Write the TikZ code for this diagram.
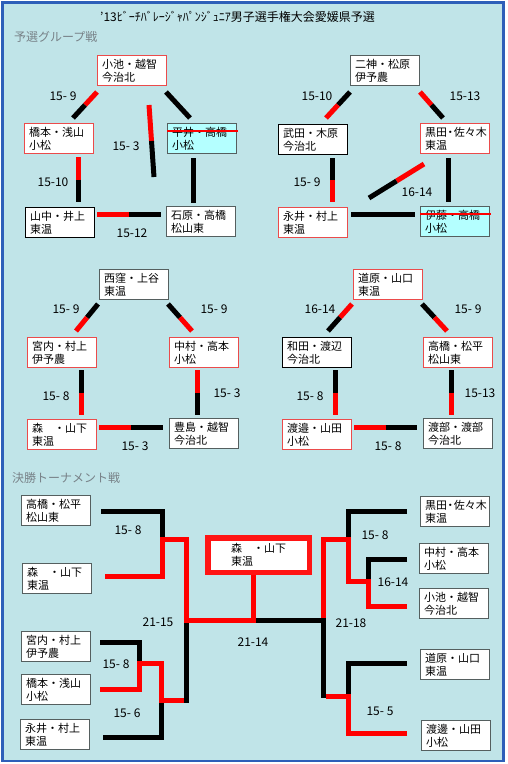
\documentclass[tikz,border=0pt]{standalone}
\usepackage{fontspec}
\setmainfont{Noto Sans CJK JP}
\usetikzlibrary{calc}
\definecolor{bgc}{RGB}{192,228,232}
\definecolor{frameblue}{RGB}{45,95,185}
\definecolor{boxred}{RGB}{235,75,75}
\definecolor{boxgray}{RGB}{85,95,95}
\definecolor{headgray}{RGB}{120,130,136}
\definecolor{cyanfill}{RGB}{180,255,255}
\definecolor{lred}{RGB}{255,0,0}
\tikzset{
 tb/.style={draw=boxgray, line width=1.3pt, fill=white, anchor=north west, minimum width=68.5pt, minimum height=30pt, text width=59.5pt, inner xsep=4.5pt, inner ysep=0pt, align=left, font=\fontsize{11}{12.5}\selectfont},
 redb/.style={draw=boxred},
 blkb/.style={draw=black},
 cyb/.style={fill=cyanfill},
 conn/.style={line width=5pt},
 score/.style={font=\fontsize{12}{12}\selectfont, inner sep=0pt},
 head/.style={font=\fontsize{12}{12}\selectfont, text=headgray, anchor=west, inner sep=0pt},
 br/.style={line width=5pt, line join=miter},
 champ/.style={draw=lred!92!white, line width=5.5pt, fill=white, minimum width=101.5pt, minimum height=34.5pt, inner sep=0pt, align=left, font=\fontsize{11}{12.5}\selectfont},
 strike/.style={lred, line width=1.2pt}
}
\newcommand\tbx[5]{\node[tb,#1] (#2) at (#3,#4) {#5};}
\newcommand\duo[4]{\draw[conn,#3] (#1) -- ($(#1)!0.5!(#2)$); \draw[conn,#4] ($(#1)!0.5!(#2)$) -- (#2);}
\newcommand\nkdot{\makebox[0.6em]{・}}
\begin{document}
\begin{tikzpicture}[x=1pt,y=-1pt]
\useasboundingbox (0,0) rectangle (507,764);
\fill[white] (0,0) rectangle (507,764);
\draw[frameblue, line width=2.5pt, fill=bgc] (2.5,2.5) rectangle (503.5,761);

\node[font=\fontsize{12}{12}\selectfont, inner sep=0pt] (title) at (237.5,17) {’13ﾋﾞｰﾁﾊﾞﾚｰｼﾞｬﾊﾟﾝｼﾞｭﾆｱ男子選手権大会愛媛県予選};
\node[head] (h1) at (14,37) {予選グループ戦};
\node[head] (h2) at (12,478) {決勝トーナメント戦};

% group 1
\tbx{redb}{g1a}{97}{55}{小池・越智\\今治北}
\tbx{redb}{g1b}{24}{123}{橋本・浅山\\小松}
\tbx{cyb}{g1c}{167}{123}{平井・高橋\\小松}
\tbx{blkb}{g1d}{25}{207}{山中・井上\\東温}
\tbx{}{g1e}{166}{206}{石原・高橋\\松山東}
\draw[strike] ([yshift=-8pt]g1c.north west) -- ([yshift=-8pt,xshift=1pt]g1c.north east);
\coordinate (p1) at (97,92); \coordinate (p2) at (73,118);
\coordinate (p3) at (166,92); \coordinate (p4) at (190,118);
\coordinate (p5) at (149,105); \coordinate (p6) at (154,177);
\coordinate (p7) at (78,157); \coordinate (p8) at (78,202);
\coordinate (p9) at (193,158); \coordinate (p10) at (193,203);
\coordinate (p11) at (97,214); \coordinate (p12) at (161,214);
\duo{p1}{p2}{lred}{black}
\draw[conn] (p3) -- (p4);
\duo{p5}{p6}{lred}{black}
\duo{p7}{p8}{lred}{black}
\draw[conn] (p9) -- (p10);
\duo{p11}{p12}{lred}{black}
\node[score] (s1) at (63,96) {15- 9};
\node[score] (s2) at (126,146) {15- 3};
\node[score] (s3) at (53,182) {15-10};
\node[score] (s4) at (132,233) {15-12};

% group 2
\tbx{}{g2a}{350}{55}{二神・松原\\伊予農}
\tbx{blkb}{g2b}{278}{124}{武田・木原\\今治北}
\tbx{redb}{g2c}{420}{123}{黒田\nkdot 佐々木\\東温}
\tbx{redb}{g2d}{278}{207}{永井・村上\\東温}
\tbx{cyb}{g2e}{420}{206}{伊藤・高橋\\小松}
\draw[strike] ([yshift=-8pt]g2e.north west) -- ([yshift=-8pt,xshift=1pt]g2e.north east);
\coordinate (q1) at (350,92); \coordinate (q2) at (326,118);
\coordinate (q3) at (420,92); \coordinate (q4) at (443,118);
\coordinate (q5) at (332,158); \coordinate (q6) at (332,202);
\coordinate (q7) at (448,158); \coordinate (q8) at (448,202);
\coordinate (q9) at (424,164); \coordinate (q10) at (369,198);
\coordinate (q11) at (351,214); \coordinate (q12) at (415,214);
\duo{q1}{q2}{black}{lred}
\duo{q3}{q4}{lred}{black}
\duo{q5}{q6}{black}{lred}
\draw[conn] (q7) -- (q8);
\duo{q9}{q10}{lred}{black}
\draw[conn] (q11) -- (q12);
\node[score] (s5) at (317,96) {15-10};
\node[score] (s6) at (465,96) {15-13};
\node[score] (s7) at (307,182) {15- 9};
\node[score] (s8) at (417,192) {16-14};

% group 3
\tbx{}{g3a}{99}{269}{西窪・上谷\\東温}
\tbx{redb}{g3b}{27}{337}{宮内・村上\\伊予農}
\tbx{redb}{g3c}{169}{337}{中村・高本\\小松}
\tbx{redb}{g3d}{27}{419}{森　・山下\\東温}
\tbx{}{g3e}{169}{418}{豊島・越智\\今治北}
\coordinate (r1) at (98,304); \coordinate (r2) at (76,331);
\coordinate (r3) at (168,304); \coordinate (r4) at (192,331);
\coordinate (r5) at (81,370); \coordinate (r6) at (81,415);
\coordinate (r7) at (197,370); \coordinate (r8) at (197,415);
\coordinate (r9) at (99,427); \coordinate (r10) at (163,427);
\duo{r1}{r2}{black}{lred}
\duo{r3}{r4}{black}{lred}
\duo{r5}{r6}{black}{lred}
\duo{r7}{r8}{lred}{black}
\duo{r9}{r10}{lred}{black}
\node[score] (s9) at (66,309) {15- 9};
\node[score] (s10) at (214,309) {15- 9};
\node[score] (s11) at (56,396) {15- 8};
\node[score] (s12) at (227,393) {15- 3};
\node[score] (s13) at (135,446) {15- 3};

% group 4
\tbx{redb}{g4a}{353}{269}{道原・山口\\東温}
\tbx{blkb}{g4b}{282}{337}{和田・渡辺\\今治北}
\tbx{redb}{g4c}{423}{337}{高橋・松平\\松山東}
\tbx{redb}{g4d}{282}{419}{渡邉・山田\\小松}
\tbx{}{g4e}{423}{418}{渡部・渡部\\今治北}
\coordinate (u1) at (352,304); \coordinate (u2) at (328,331);
\coordinate (u3) at (422,304); \coordinate (u4) at (447,331);
\coordinate (u5) at (335,370); \coordinate (u6) at (335,415);
\coordinate (u7) at (451,370); \coordinate (u8) at (451,415);
\coordinate (u9) at (354,427); \coordinate (u10) at (417,427);
\duo{u1}{u2}{lred}{black}
\duo{u3}{u4}{black}{lred}
\duo{u5}{u6}{black}{lred}
\duo{u7}{u8}{black}{lred}
\duo{u9}{u10}{lred}{black}
\node[score] (s14) at (320,309) {16-14};
\node[score] (s15) at (468,309) {15- 9};
\node[score] (s16) at (310,396) {15- 8};
\node[score] (s17) at (480,393) {15-13};
\node[score] (s18) at (388,446) {15- 8};

% tournament boxes
\tbx{}{t1}{21}{495}{高橋・松平\\松山東}
\tbx{}{t2}{22}{563}{森　・山下\\東温}
\tbx{}{t3}{21}{631}{宮内・村上\\伊予農}
\tbx{}{t4}{21}{674}{橋本・浅山\\小松}
\tbx{}{t5}{20}{719}{永井・村上\\東温}
\tbx{}{t6}{420}{496}{黒田\nkdot 佐々木\\東温}
\tbx{}{t7}{419}{543}{中村・高本\\小松}
\tbx{}{t8}{419}{588}{小池・越智\\今治北}
\tbx{}{t9}{420}{649}{道原・山口\\東温}
\tbx{}{t10}{421}{720}{渡邊・山田\\小松}
\node[champ] (champ) at (258.5,555) {森　・山下\\東温};

% bracket free ends
\coordinate (e1) at (101,511);
\coordinate (e2) at (105,576);
\coordinate (e3) at (100,642);
\coordinate (e4) at (100,689);
\coordinate (e5) at (103,737);
\coordinate (e6) at (407,511);
\coordinate (e7) at (407,559);
\coordinate (e8) at (407,606);
\coordinate (e9) at (407,663);
\coordinate (e10) at (407,733);

% black bracket lines
\draw[br] (e1) -- (162,511) -- (162,539);
\draw[br] (e3) -- (139,642) -- (139,663);
\draw[br] (e5) -- (161,737) -- (161,700);
\draw[br] (186,622.5) -- (186,702.5);
\draw[br] (255.5,620) -- (323,620) -- (323,698);
\draw[br] (e6) -- (348,511) -- (348,539);
\draw[br] (e7) -- (368,559) -- (368,581);
\draw[br] (e9) -- (348,663) -- (348,696);

% red bracket lines
\draw[br,lred] (e2) -- (162,576) -- (162,539) -- (186,539) -- (186,620) -- (253,620) -- (253,620 |- champ.south);
\draw[br,lred] (e4) -- (139,689) -- (139,663) -- (161,663) -- (161,700) -- (183.5,700);
\draw[br,lred] (e8) -- (368,606) -- (368,581) -- (348,581) -- (348,539) -- (323,539) -- (323,617.5);
\draw[br,lred] (e10) -- (348,733) -- (348,696) -- (325.5,696);

\node[score] (s19) at (128,530) {15- 8};
\node[score] (s20) at (158,622) {21-15};
\node[score] (s21) at (116,664) {15- 8};
\node[score] (s22) at (127,713) {15- 6};
\node[score] (s23) at (253,642) {21-14};
\node[score] (s24) at (375,535) {15- 8};
\node[score] (s25) at (393,582) {16-14};
\node[score] (s26) at (351,623) {21-18};
\node[score] (s27) at (380,711) {15- 5};
\end{tikzpicture}
\end{document}
